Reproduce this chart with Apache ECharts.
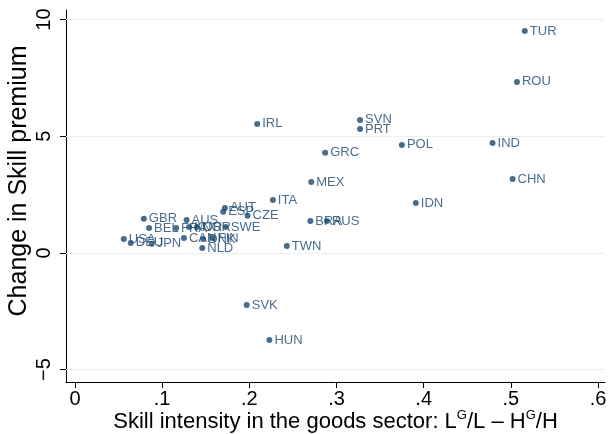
<!DOCTYPE html>
<html>
<head>
<meta charset="utf-8">
<script src="https://cdn.jsdelivr.net/npm/echarts@6/dist/echarts.min.js"></script>
<style>
  html, body { margin: 0; padding: 0; background: #fff; }
  #chart { width: 608px; height: 434px; }
</style>
</head>
<body>
<div id="chart"></div>
<script>
const countries = ['TUR', 'ROU', 'SVN', 'PRT', 'IRL', 'POL', 'IND', 'GRC', 'MEX', 'CHN',
  'ITA', 'IDN', 'AUT', 'ESP', 'CZE', 'BRA', 'RUS', 'GBR', 'BEL', 'FRA',
  'AUS', 'KOR', 'NOR', 'SWE', 'CAN', 'DNK', 'FIN', 'NLD', 'USA', 'DEU',
  'JPN', 'TWN', 'SVK', 'HUN'];
const skillIntensity = [0.516, 0.507, 0.327, 0.327, 0.209, 0.375, 0.479, 0.287, 0.271, 0.502,
  0.227, 0.391, 0.172, 0.170, 0.198, 0.270, 0.289, 0.079, 0.085, 0.116,
  0.128, 0.131, 0.140, 0.173, 0.125, 0.147, 0.158, 0.146, 0.056, 0.064,
  0.088, 0.243, 0.197, 0.223];
const premiumChange = [9.51, 7.33, 5.70, 5.31, 5.53, 4.63, 4.71, 4.29, 3.04, 3.17,
  2.27, 2.14, 1.93, 1.76, 1.59, 1.37, 1.37, 1.46, 1.07, 1.07,
  1.41, 1.11, 1.11, 1.11, 0.64, 0.60, 0.64, 0.21, 0.60, 0.43,
  0.39, 0.30, -2.23, -3.73];
const xTicks = [0, 0.1, 0.2, 0.3, 0.4, 0.5, 0.6];
const yTicks = [-5, 0, 5, 10];

const navy = '#1a476f';
const font = 'Liberation Sans, Arial, sans-serif';

const chart = echarts.init(document.getElementById('chart'));

const points = countries.map((c, i) => [skillIntensity[i], premiumChange[i], c]);

const option = {
  backgroundColor: '#fff',
  animation: false,
  grid: { left: 66, right: 3, top: 10, bottom: 52, outerBoundsMode: 'none' },
  xAxis: {
    type: 'value',
    min: -0.0103,
    max: 0.608,
    name: '{t|Skill intensity in the goods sector: L}{s|G}{t|/L \u2013 H}{s|G}{t|/H}',
    nameLocation: 'middle',
    nameGap: 27,
    nameMoveOverlap: false,
    nameTextStyle: {
      rich: {
        t: { fontFamily: font, fontSize: 22, color: '#000', lineHeight: 24, verticalAlign: 'bottom' },
        s: { fontFamily: font, fontSize: 13, color: '#000', lineHeight: 24, verticalAlign: 'top' }
      }
    },
    axisLine: { show: true, onZero: false, lineStyle: { color: '#000', width: 1 } },
    axisTick: { show: true, length: 6, customValues: xTicks, lineStyle: { color: '#000' } },
    axisLabel: {
      customValues: xTicks,
      color: '#000',
      fontFamily: font,
      fontSize: 20,
      margin: 7,
      formatter: v => v === 0 ? '0' : '.' + Math.round(v * 10)
    },
    splitLine: { show: false }
  },
  yAxis: {
    type: 'value',
    min: -5.53,
    max: 10.41,
    name: 'Change in Skill premium',
    nameLocation: 'middle',
    nameGap: 34,
    nameMoveOverlap: false,
    nameRotate: 90,
    nameTextStyle: { fontFamily: font, fontSize: 25, color: '#000', padding: [0, 0, 0, 30] },
    axisLine: { show: true, onZero: false, lineStyle: { color: '#000', width: 1 } },
    axisTick: { show: true, length: 6, customValues: yTicks, lineStyle: { color: '#000' } },
    axisLabel: {
      customValues: yTicks,
      rotate: 90,
      color: '#000',
      fontFamily: font,
      fontSize: 20,
      margin: 12,
      formatter: v => v < 0 ? '\u2212' + Math.abs(v) : String(v)
    },
    splitLine: { show: false }
  },
  series: [{
    type: 'scatter',
    data: points,
    symbol: 'circle',
    symbolSize: 6,
    itemStyle: { color: navy },
    label: {
      show: true,
      position: 'right',
      distance: 2,
      color: navy,
      fontFamily: font,
      fontSize: 13,
      formatter: p => p.data[2]
    },
    labelLayout: { hideOverlap: false },
    markLine: {
      silent: true,
      symbol: 'none',
      label: { show: false },
      lineStyle: { color: '#e8eff1', type: 'solid', width: 1 },
      data: yTicks.map(v => ({ yAxis: v }))
    },
    z: 3
  }]
};

chart.setOption(option);
</script>
</body>
</html>
